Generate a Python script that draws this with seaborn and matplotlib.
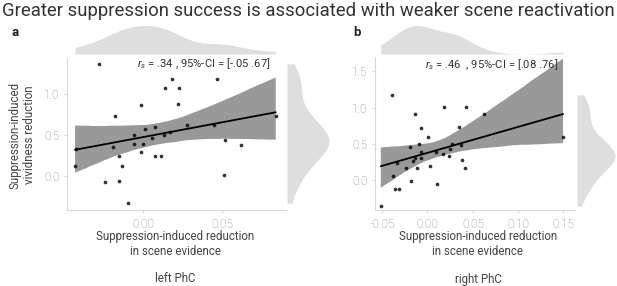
import numpy as np
import pandas as pd
import matplotlib
matplotlib.use("Agg")
import matplotlib.pyplot as plt
import seaborn as sns

# ---- data ----
left_x = [-0.0277, -0.0426, -0.0430, -0.0243, -0.0175, -0.0188, -0.0154, -0.0154,
          -0.0133, -0.0095, -0.0056, -0.0056, -0.0014, -0.0010, -0.0001, 0.0012,
          0.0054, 0.0075, 0.0077, 0.0113, 0.0135, 0.0137, 0.0171, 0.0182, 0.0222,
          0.0228, 0.0281, 0.0449, 0.0470, 0.0511, 0.0521, 0.0619, 0.0840]
left_y = [1.366, 0.333, 0.126, -0.069, 0.736, 0.354, 0.248, -0.061,
          0.122, -0.329, 0.500, 0.398, 0.293, 0.866, 0.398, 0.573,
          0.467, 0.593, 0.248, 0.248, 0.500, 1.077, 0.537, 1.187, 0.878,
          1.077, 0.626, 0.626, 1.187, 0.016, 0.439, 0.374, 0.732]

right_x = [-0.0516, -0.0387, -0.0383, -0.0354, -0.0332, -0.0310, -0.0232, -0.0191,
           -0.0180, -0.0158, -0.0140, -0.0133, -0.0111, -0.0092, -0.0077, -0.0070,
           -0.0070, 0.0004, 0.0026, 0.0096, 0.0104, 0.0170, 0.0185, 0.0240, 0.0248,
           0.0273, 0.0347, 0.0365, 0.0376, 0.0420, 0.0428, 0.0624, 0.1498]
right_y = [-0.364, 1.177, 0.051, -0.125, 0.240, -0.125, 0.162, 0.457,
           -0.009, 0.263, 0.305, 0.914, 0.162, 0.503, 0.305, 0.388,
           0.720, 0.600, 0.198, 0.388, -0.051, 0.360, 1.015, 0.332, 0.425,
           0.494, 0.730, 0.480, 0.277, 0.166, 1.015, 0.918, 0.600]

left_ticks_x = [0.00, 0.05]
right_ticks_x = [-0.05, 0.00, 0.05, 0.10, 0.15]
left_ticks_y = [0.0, 0.5, 1.0]
right_ticks_y = [0.0, 0.5, 1.0, 1.5]

title = "Greater suppression success is associated with weaker scene reactivation"
xlabel = "Suppression-induced reduction\nin scene evidence"
ylabel = "Suppression-induced\nvividness reduction"
left_note = r"$r_s$ = .34 , 95%-CI = [-.05 .67]"
right_note = r"$r_s$ = .46  , 95%-CI = [.08 .76]"
panel_names = ["left PhC", "right PhC"]
panel_letters = ["a", "b"]

sns.set_style("white")
plt.rcParams["font.family"] = ["Roboto", "DejaVu Sans"]
plt.rcParams["mathtext.fontset"] = "custom"
plt.rcParams["mathtext.rm"] = "Roboto"
plt.rcParams["mathtext.it"] = "Roboto:italic"

W, H = 617, 286
fig = plt.figure(figsize=(W / 100, H / 100), dpi=100)

def ax_px(x0, y0, x1, y1):
    return fig.add_axes([x0 / W, 1 - y1 / H, (x1 - x0) / W, (y1 - y0) / H])

TICKC = "#858585"
SPINEC = "#d9d9d9"
MARGC = "#dedede"
BANDC = "#999999"
TEXTC = "#444444"

def panel(x, y, box, xlim, ylim, xticks, yticks, note, note_pos, topbox, rightbox, name, namex):
    df = pd.DataFrame({"x": x, "y": y})
    ax = ax_px(*box)
    sns.regplot(data=df, x="x", y="y", ax=ax, ci=95, seed=3, n_boot=2000,
                color="black",
                scatter_kws=dict(s=7, linewidths=0, color="black", zorder=4),
                line_kws=dict(color="black", lw=1.3, zorder=3))
    for c in ax.collections:
        if not isinstance(c, matplotlib.collections.PathCollection):
            c.set_facecolor(BANDC)
            c.set_alpha(1)
            c.set_edgecolor("none")
            c.set_zorder(2)
    ax.set_xlim(*xlim)
    ax.set_ylim(*ylim)
    ax.set_xticks(xticks)
    ax.set_yticks(yticks)
    ax.set_xticklabels([f"{t:.2f}" for t in xticks])
    ax.set_yticklabels([f"{t:.1f}" for t in yticks])
    ax.set_xlabel("")
    ax.set_ylabel("")
    ax.tick_params(axis="both", colors=SPINEC, labelcolor=TICKC, labelsize=8.5,
                   length=2.5, width=0.8, pad=3, bottom=True, left=True)
    for s in ["top", "right"]:
        ax.spines[s].set_visible(False)
    for s in ["left", "bottom"]:
        ax.spines[s].set_color(SPINEC)
        ax.spines[s].set_linewidth(0.8)
    for lab in ax.get_xticklabels() + ax.get_yticklabels():
        lab.set_fontweight("light")
    ax.text(note_pos[0], note_pos[1], note, transform=fig.transFigure,
            ha="right", va="center", fontsize=8.1, color="#333333")

    axt = ax_px(*topbox)
    sns.kdeplot(x=x, ax=axt, fill=True, cut=0, bw_adjust=0.85, color=MARGC,
                alpha=1, linewidth=0)
    axt.set_xlim(*xlim)
    axt.set_ylim(0, axt.get_ylim()[1] * 1.0)
    axt.axis("off")

    axr = ax_px(*rightbox)
    sns.kdeplot(y=y, ax=axr, fill=True, cut=0, bw_adjust=0.85, color=MARGC,
                alpha=1, linewidth=0)
    axr.set_ylim(*ylim)
    axr.set_xlim(0, axr.get_xlim()[1] * 1.0)
    axr.axis("off")

    fig.text(namex / W, 1 - 244 / H, xlabel, ha="center", va="center",
             fontsize=8.3, color=TEXTC, linespacing=1.15)
    fig.text(namex / W, 1 - 279 / H, name, ha="center", va="center",
             fontsize=8.3, color=TEXTC)
    return ax

panel(left_x, left_y, (67, 58, 286, 210), (-0.0481, 0.0905), (-0.41, 1.437),
      left_ticks_x, left_ticks_y, left_note, (270 / W, 1 - 64 / H),
      (67, 24, 286, 54), (287, 58, 331, 210), panel_names[0], 175)
panel(right_x, right_y, (375, 57, 575, 210), (-0.058, 0.163), (-0.415, 1.70),
      right_ticks_x, right_ticks_y, right_note, (558 / W, 1 - 65 / H),
      (375, 24, 575, 54), (577, 57, 617, 210), panel_names[1], 478)

fig.text(22 / W, 1 - 135 / H, ylabel, rotation=90, ha="center", va="center",
         fontsize=8.3, color=TEXTC, linespacing=1.15)
fig.text(2 / W, 1 - 11 / H, title, ha="left", va="center", fontsize=13.3,
         color="#333333")
fig.text(15 / W, 1 - 33 / H, panel_letters[0], ha="center", va="center",
         fontsize=9.5, fontweight="bold", color="#222222")
fig.text(357 / W, 1 - 33 / H, panel_letters[1], ha="center", va="center",
         fontsize=9.5, fontweight="bold", color="#222222")

fig.savefig("out.png", dpi=100)
